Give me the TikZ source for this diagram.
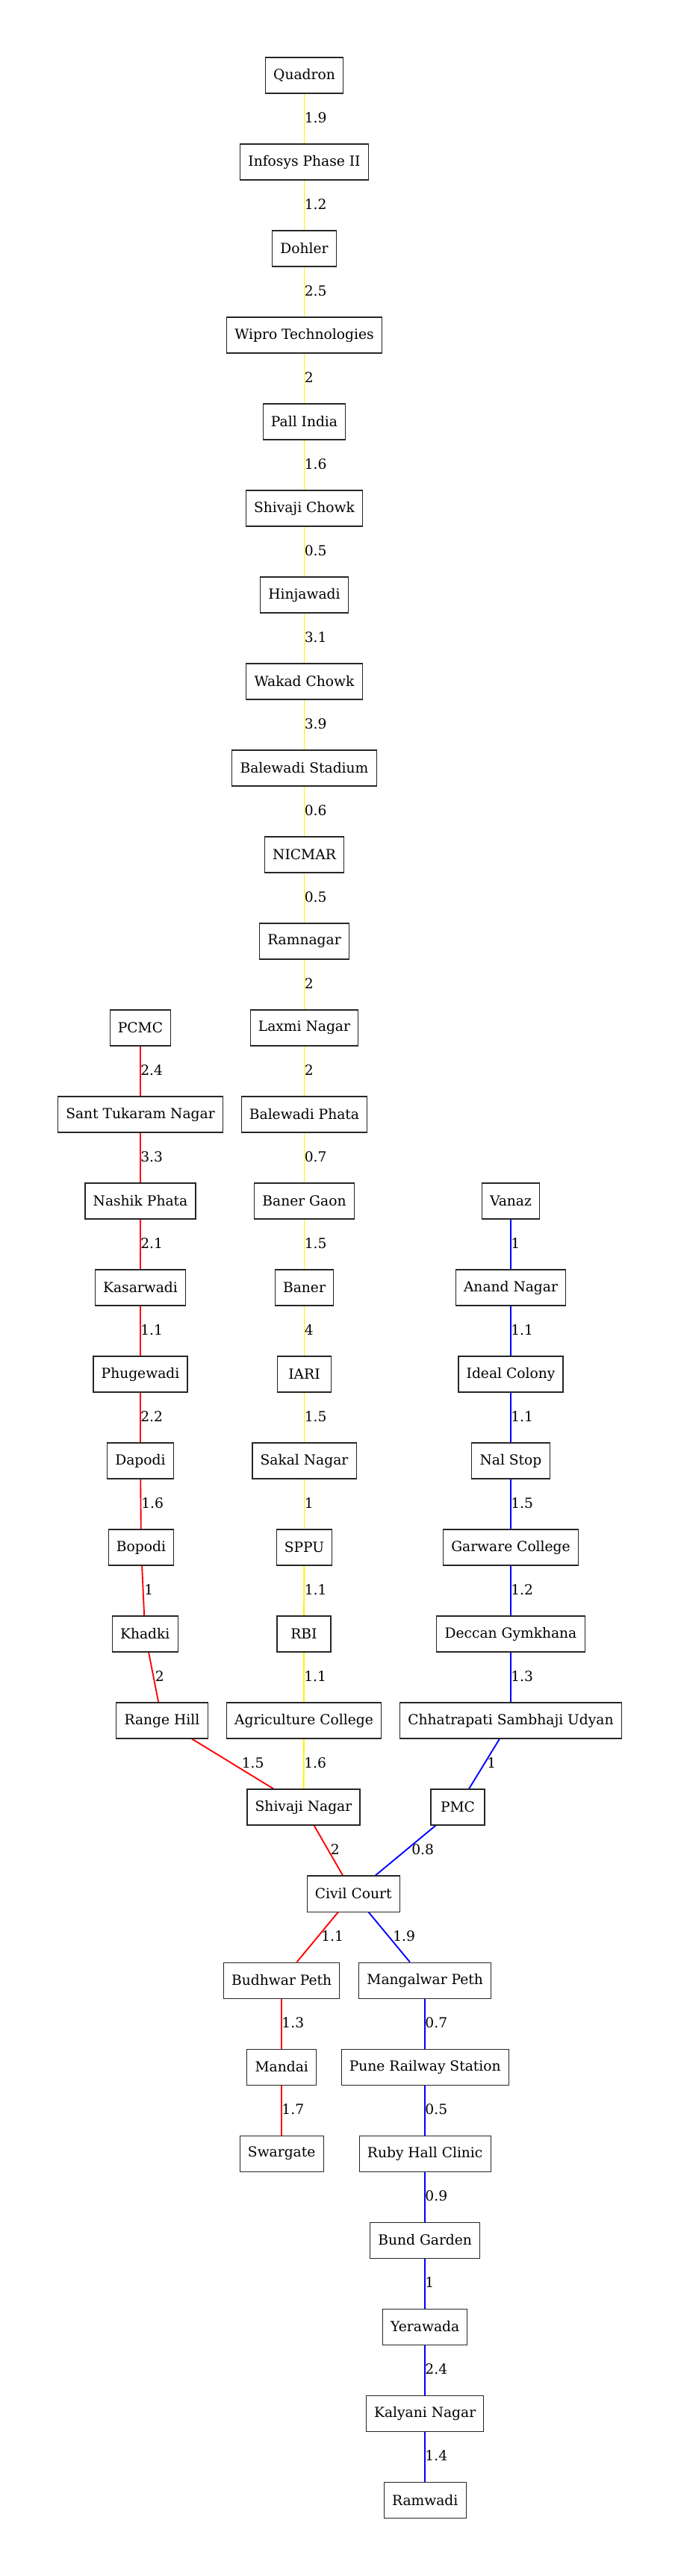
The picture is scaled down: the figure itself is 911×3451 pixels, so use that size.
\documentclass[tikz,border=0pt]{standalone}
\usepackage{fontspec}
\setmainfont{DejaVu Serif}
\pgfdeclarelayer{bg}
\pgfsetlayers{bg,main}
\begin{document}
\begin{tikzpicture}[x=0.75pt,y=-0.75pt,
  station/.style={draw=black!85, line width=0.8pt, fill=white, rectangle,
    minimum height=36pt, minimum width=54pt, inner xsep=8pt, inner ysep=0pt,
    font=\fontsize{14pt}{16pt}\selectfont},
  dist/.style={anchor=base west, inner sep=0pt, font=\fontsize{14pt}{16pt}\selectfont},
  yl/.style={draw=yellow, line width=1.4pt},
  rd/.style={draw=red, line width=1.4pt},
  bl/.style={draw=blue, line width=1.4pt}]
\useasboundingbox (0,0) rectangle (911,3451);
% ---- Yellow line stations
\node[station] (q1) at (407.5,101) {Quadron};
\node[station] (q2) at (407.5,217) {Infosys Phase II};
\node[station] (q3) at (407.5,333) {Dohler};
\node[station] (q4) at (407.5,449) {Wipro Technologies};
\node[station] (q5) at (407.5,565) {Pall India};
\node[station] (q6) at (407.5,681) {Shivaji Chowk};
\node[station] (q7) at (407.5,797) {Hinjawadi};
\node[station] (q8) at (407.5,913) {Wakad Chowk};
\node[station] (q9) at (407.5,1029) {Balewadi Stadium};
\node[station] (q10) at (407.5,1145) {NICMAR};
\node[station] (q11) at (407.5,1261) {Ramnagar};
\node[station] (q12) at (407.5,1377) {Laxmi Nagar};
\node[station] (q13) at (407.5,1493) {Balewadi Phata};
\node[station] (q14) at (407.5,1609) {Baner Gaon};
\node[station] (q15) at (407.5,1725) {Baner};
\node[station] (q16) at (407.5,1841) {IARI};
\node[station] (q17) at (407.5,1957) {Sakal Nagar};
\node[station] (q18) at (407.5,2073) {SPPU};
\node[station] (q19) at (407,2189) {RBI};
\node[station] (q20) at (407,2305) {Agriculture College};
\node[station] (sn) at (406.5,2421) {Shivaji Nagar};
% ---- Red line stations
\node[station] (r1) at (188,1377) {PCMC};
\node[station] (r2) at (188,1493) {Sant Tukaram Nagar};
\node[station] (r3) at (188,1609) {Nashik Phata};
\node[station] (r4) at (188,1725) {Kasarwadi};
\node[station] (r5) at (188,1841) {Phugewadi};
\node[station] (r6) at (188,1957) {Dapodi};
\node[station] (r7) at (189,2073) {Bopodi};
\node[station] (r8) at (194.3,2189) {Khadki};
\node[station] (r9) at (217,2305) {Range Hill};
\node[station] (cc) at (473.2,2537) {Civil Court};
\node[station] (r10) at (377.2,2653) {Budhwar Peth};
\node[station] (r11) at (377.2,2769) {Mandai};
\node[station] (r12) at (377.2,2885) {Swargate};
% ---- Blue line stations
\node[station] (b1) at (684,1609) {Vanaz};
\node[station] (b2) at (684,1725) {Anand Nagar};
\node[station] (b3) at (684,1841) {Ideal Colony};
\node[station] (b4) at (684,1957) {Nal Stop};
\node[station] (b5) at (684,2073) {Garware College};
\node[station] (b6) at (684,2189) {Deccan Gymkhana};
\node[station] (b7) at (684,2305) {Chhatrapati Sambhaji Udyan};
\node[station] (b8) at (613,2421) {PMC};
\node[station] (b9) at (569.2,2653) {Mangalwar Peth};
\node[station] (b10) at (569.2,2769) {Pune Railway Station};
\node[station] (b11) at (569.2,2885) {Ruby Hall Clinic};
\node[station] (b12) at (569.2,3001) {Bund Garden};
\node[station] (b13) at (569.2,3117) {Yerawada};
\node[station] (b14) at (569.2,3233) {Kalyani Nagar};
\node[station] (b15) at (569.2,3349) {Ramwadi};
% ---- connectors
\begin{pgfonlayer}{bg}
\draw[yl] (q1) -- (q2);
\draw[yl] (q2) -- (q3);
\draw[yl] (q3) -- (q4);
\draw[yl] (q4) -- (q5);
\draw[yl] (q5) -- (q6);
\draw[yl] (q6) -- (q7);
\draw[yl] (q7) -- (q8);
\draw[yl] (q8) -- (q9);
\draw[yl] (q9) -- (q10);
\draw[yl] (q10) -- (q11);
\draw[yl] (q11) -- (q12);
\draw[yl] (q12) -- (q13);
\draw[yl] (q13) -- (q14);
\draw[yl] (q14) -- (q15);
\draw[yl] (q15) -- (q16);
\draw[yl] (q16) -- (q17);
\draw[yl] (q17) -- (q18);
\draw[yl] (q18) -- (q19);
\draw[yl] (q19) -- (q20);
\draw[yl] (q20) -- (sn);
\draw[rd] (r1) -- (r2);
\draw[rd] (r2) -- (r3);
\draw[rd] (r3) -- (r4);
\draw[rd] (r4) -- (r5);
\draw[rd] (r5) -- (r6);
\draw[rd] (r6) -- (r7);
\draw[rd] (r7) -- (r8);
\draw[rd] (r8) -- (r9);
\draw[rd] (r9) -- (sn);
\draw[rd] (sn) -- (cc);
\draw[rd] (cc) -- (r10);
\draw[rd] (r10) -- (r11);
\draw[rd] (r11) -- (r12);
\draw[bl] (b1) -- (b2);
\draw[bl] (b2) -- (b3);
\draw[bl] (b3) -- (b4);
\draw[bl] (b4) -- (b5);
\draw[bl] (b5) -- (b6);
\draw[bl] (b6) -- (b7);
\draw[bl] (b7) -- (b8);
\draw[bl] (b8) -- (cc);
\draw[bl] (cc) -- (b9);
\draw[bl] (b9) -- (b10);
\draw[bl] (b10) -- (b11);
\draw[bl] (b11) -- (b12);
\draw[bl] (b12) -- (b13);
\draw[bl] (b13) -- (b14);
\draw[bl] (b14) -- (b15);
\end{pgfonlayer}
% ---- distance labels, yellow
\node[dist] (ly1) at (407.5,164) {1.9};
\node[dist] (ly2) at (407.5,280) {1.2};
\node[dist] (ly3) at (407.5,396) {2.5};
\node[dist] (ly4) at (407.5,512) {2};
\node[dist] (ly5) at (407.5,628) {1.6};
\node[dist] (ly6) at (407.5,744) {0.5};
\node[dist] (ly7) at (407.5,860) {3.1};
\node[dist] (ly8) at (407.5,976) {3.9};
\node[dist] (ly9) at (407.5,1092) {0.6};
\node[dist] (ly10) at (407.5,1208) {0.5};
\node[dist] (ly11) at (407.5,1324) {2};
\node[dist] (ly12) at (407.5,1440) {2};
\node[dist] (ly13) at (407.5,1556) {0.7};
\node[dist] (ly14) at (407.5,1672) {1.5};
\node[dist] (ly15) at (407.5,1788) {4};
\node[dist] (ly16) at (407.5,1904) {1.5};
\node[dist] (ly17) at (407.5,2020) {1};
\node[dist] (ly18) at (407.5,2136) {1.1};
\node[dist] (ly19) at (407,2252) {1.1};
\node[dist] (ly20) at (407,2368) {1.6};
% ---- red labels
\node[dist] (lr1) at (188,1440) {2.4};
\node[dist] (lr2) at (188,1556) {3.3};
\node[dist] (lr3) at (188,1672) {2.1};
\node[dist] (lr4) at (188,1788) {1.1};
\node[dist] (lr5) at (188,1904) {2.2};
\node[dist] (lr6) at (189,2020) {1.6};
\node[dist] (lr7) at (193,2136) {1};
\node[dist] (lr8) at (207.5,2252) {2};
\node[dist] (lr9) at (323.5,2368) {1.5};
\node[dist] (lr10) at (442.5,2484) {2};
\node[dist] (lr11) at (430,2600) {1.1};
\node[dist] (lr12) at (377.2,2716) {1.3};
\node[dist] (lr13) at (377.2,2832) {1.7};
% ---- blue labels
\node[dist] (lb1) at (684,1672) {1};
\node[dist] (lb2) at (684,1788) {1.1};
\node[dist] (lb3) at (684,1904) {1.1};
\node[dist] (lb4) at (684,2020) {1.5};
\node[dist] (lb5) at (684,2136) {1.2};
\node[dist] (lb6) at (684,2252) {1.3};
\node[dist] (lb7) at (652,2368) {1};
\node[dist] (lb8) at (551,2484) {0.8};
\node[dist] (lb9) at (526,2600) {1.9};
\node[dist] (lb10) at (569.2,2716) {0.7};
\node[dist] (lb11) at (569.2,2832) {0.5};
\node[dist] (lb12) at (569.2,2948) {0.9};
\node[dist] (lb13) at (569.2,3064) {1};
\node[dist] (lb14) at (569.2,3180) {2.4};
\node[dist] (lb15) at (569.2,3296) {1.4};
\end{tikzpicture}
\end{document}
